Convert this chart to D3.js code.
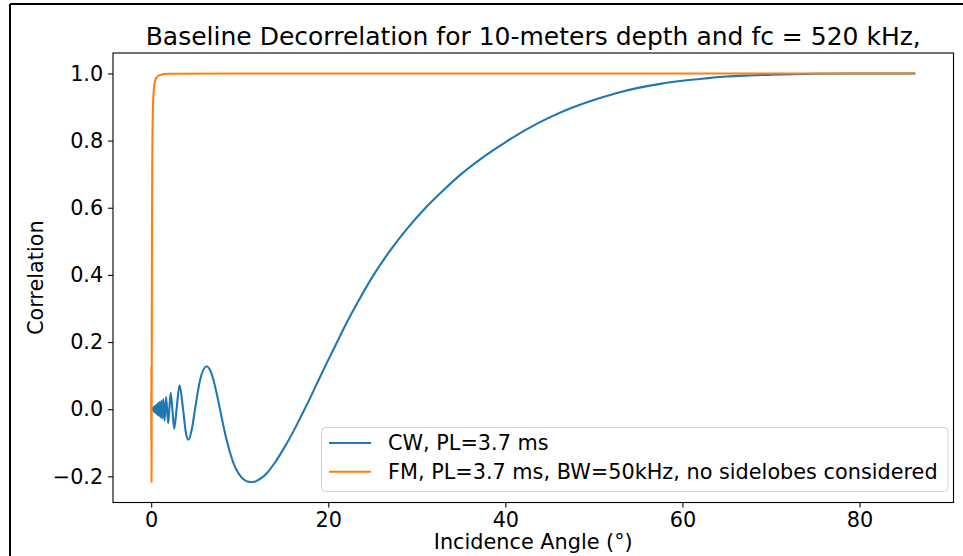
<!DOCTYPE html>
<html>
<head>
<meta charset="utf-8">
<script src="https://cdn.jsdelivr.net/npm/d3@7"></script>
<style>
  html, body { margin: 0; padding: 0; background: #fff; }
  svg { display: block; font-family: "DejaVu Sans", sans-serif; }
</style>
</head>
<body>
<svg id="chart" width="963" height="556"></svg>
<script>
// Incidence angle (deg) and correlation for the CW pulse
const cwAngle = [
  0.00, 0.05, 0.10, 0.15, 0.20, 0.25, 0.30, 0.35, 0.40, 0.45,
  0.50, 0.55, 0.60, 0.65, 0.70, 0.75, 0.80, 0.85, 0.90, 0.95,
  1.061, 1.147, 1.247, 1.366, 1.510, 1.687, 1.913, 2.046, 2.20, 2.39,
  2.60, 2.865, 3.20, 3.60, 3.90, 4.20, 4.60, 4.95, 5.50, 6.27,
  6.60, 7.00, 7.40, 7.80, 8.20, 8.60, 9.00, 9.50, 10.0, 10.5,
  11.0, 11.5, 12.0, 12.5, 13.0, 14.0, 15.0, 16.0, 17.0, 18.0,
  19.0, 20.0, 21.0, 22.0, 23.5, 25.0, 27.0, 29.0, 31.0, 33.0,
  35.0, 37.5, 40.0, 42.5, 45.0, 47.5, 50.0, 52.5, 55.0, 57.5,
  60.0, 62.5, 65.0, 67.5, 70.0, 75.0, 80.0, 86.3
];
const cwCorr = [
  0.000, 0.001, -0.002, 0.003, -0.004, 0.006, -0.007, 0.008, -0.009, 0.010,
  -0.011, 0.012, -0.013, 0.014, -0.016, 0.017, -0.018, 0.019, -0.020, 0.021,
  -0.024, 0.025, -0.028, 0.030, -0.034, 0.037, -0.042, 0.000, 0.049, 0.000,
  -0.058, 0.000, 0.071, 0.000, -0.067, -0.091, -0.058, 0.000, 0.085, 0.128,
  0.119, 0.090, 0.046, -0.004, -0.055, -0.100, -0.138, -0.174, -0.196, -0.210,
  -0.216, -0.217, -0.212, -0.204, -0.192, -0.158, -0.116, -0.069, -0.017, 0.036,
  0.092, 0.147, 0.200, 0.254, 0.327, 0.395, 0.473, 0.541, 0.600, 0.652,
  0.700, 0.751, 0.795, 0.835, 0.869, 0.898, 0.921, 0.941, 0.957, 0.969,
  0.978, 0.985, 0.991, 0.994, 0.996, 0.999, 1.000, 1.000
];

// Incidence angle (deg) and correlation for the FM pulse
const fmAngle = [
  0.000, 0.008, 0.013, 0.0207, 0.028, 0.0356, 0.051, 0.084, 0.12, 0.20,
  0.30, 0.50, 0.80, 1.20, 2.00, 10.0, 40.0, 86.3
];
const fmCorr = [
  0.000, 0.040, -0.090, 0.128, 0.000, -0.217, 0.000, 0.500, 0.730, 0.900,
  0.953, 0.983, 0.993, 0.997, 0.999, 1.000, 1.000, 1.000
];

const seriesNames = ["CW, PL=3.7 ms", "FM, PL=3.7 ms, BW=50kHz, no sidelobes considered"];
const seriesColors = ["#1f77b4", "#ff7f0e"];
const xTicks = [0, 20, 40, 60, 80];
const yTicks = [-0.2, 0.0, 0.2, 0.4, 0.6, 0.8, 1.0];
const titleText = "Baseline Decorrelation for 10-meters depth and fc = 520 kHz,";
const xLabel = "Incidence Angle (°)";
const yLabel = "Correlation";

const series = [
  { name: seriesNames[0], color: seriesColors[0], pts: cwAngle.map((a, i) => [a, cwCorr[i]]) },
  { name: seriesNames[1], color: seriesColors[1], pts: fmAngle.map((a, i) => [a, fmCorr[i]]) }
];

const svg = d3.select("#chart");
const W = 963, H = 556;
const plot = { left: 113, right: 953.5, top: 53, bottom: 502.5 };
const FS = 20.8;       // base font size
const TITLE_FS = 25;   // title font size

// figure frame
svg.append("line").attr("x1", 10).attr("x2", 10).attr("y1", 4).attr("y2", H)
  .attr("stroke", "#000").attr("stroke-width", 2);
svg.append("line").attr("x1", 10).attr("x2", W).attr("y1", 4).attr("y2", 4)
  .attr("stroke", "#000").attr("stroke-width", 2);

// autoscale with 5% margins on both axes
const allX = series.flatMap(s => s.pts.map(p => p[0]));
const allY = series.flatMap(s => s.pts.map(p => p[1]));
const [x0, x1] = d3.extent(allX), [y0, y1] = d3.extent(allY);
const mx = (x1 - x0) * 0.05, my = (y1 - y0) * 0.05;

const x = d3.scaleLinear().domain([x0 - mx, x1 + mx]).range([plot.left, plot.right]);
const y = d3.scaleLinear().domain([y0 - my, y1 + my]).range([plot.bottom, plot.top]);

svg.append("clipPath").attr("id", "clip").append("rect")
  .attr("x", plot.left).attr("y", plot.top)
  .attr("width", plot.right - plot.left).attr("height", plot.bottom - plot.top);

const line = d3.line().x(d => x(d[0])).y(d => y(d[1])).curve(d3.curveMonotoneX);

const g = svg.append("g").attr("clip-path", "url(#clip)");
series.forEach(s => {
  g.append("path").datum(s.pts).attr("d", line)
    .attr("fill", "none").attr("stroke", s.color)
    .attr("stroke-width", 2.1).attr("stroke-linejoin", "round").attr("stroke-linecap", "butt");
});

// axes
const xAxis = d3.axisBottom(x).tickValues(xTicks).tickSize(4.9).tickPadding(4.9).tickFormat(d3.format("d"));
const yAxis = d3.axisLeft(y).tickValues(yTicks).tickSize(4.9).tickPadding(4.9).tickFormat(d3.format(".1f"));

const gx = svg.append("g").attr("transform", `translate(0,${plot.bottom})`).call(xAxis);
const gy = svg.append("g").attr("transform", `translate(${plot.left},0)`).call(yAxis);
[gx, gy].forEach(a => {
  a.select(".domain").remove();
  a.selectAll("line").attr("stroke", "#000").attr("stroke-width", 1.1);
  a.selectAll("text").attr("font-size", FS).attr("fill", "#000")
    .attr("font-family", "DejaVu Sans, sans-serif");
});

// spines
svg.append("rect").attr("x", plot.left).attr("y", plot.top)
  .attr("width", plot.right - plot.left).attr("height", plot.bottom - plot.top)
  .attr("fill", "none").attr("stroke", "#000").attr("stroke-width", 1.1);

// labels
const cx = (plot.left + plot.right) / 2;
svg.append("text").attr("x", cx).attr("y", 45).attr("text-anchor", "middle")
  .attr("font-size", TITLE_FS).text(titleText);
svg.append("text").attr("x", cx).attr("y", 549).attr("text-anchor", "middle")
  .attr("font-size", FS).text(xLabel);
svg.append("text").attr("transform", `translate(43,${(plot.top + plot.bottom) / 2}) rotate(-90)`)
  .attr("text-anchor", "middle").attr("font-size", FS).text(yLabel);

// legend
const lg = svg.append("g");
lg.append("rect").attr("x", 321.5).attr("y", 427.5).attr("width", 626.5).attr("height", 64)
  .attr("rx", 4).attr("fill", "#fff").attr("fill-opacity", 0.8)
  .attr("stroke", "#d0d0d0").attr("stroke-width", 1);
series.forEach((s, i) => {
  const yy = 443 + i * 28.7;
  lg.append("line").attr("x1", 329).attr("x2", 371).attr("y1", yy).attr("y2", yy)
    .attr("stroke", s.color).attr("stroke-width", 2.1);
  lg.append("text").attr("x", 388).attr("y", yy).attr("dy", "0.35em")
    .attr("font-size", FS).text(s.name);
});
</script>
</body>
</html>
